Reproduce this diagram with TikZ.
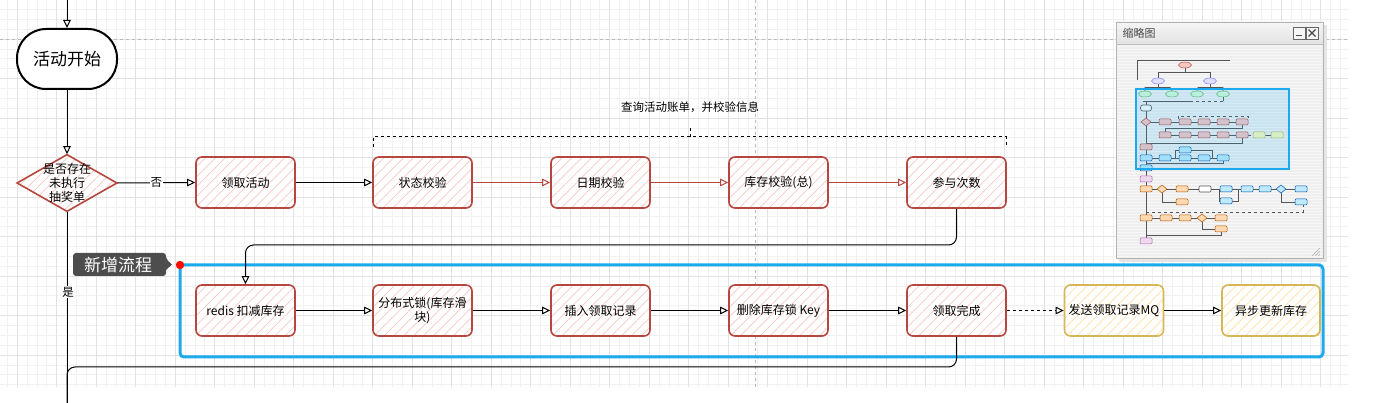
\documentclass[tikz,border=0pt]{standalone}
\usepackage{fontspec}
\setmainfont{Noto Sans CJK SC}
\usetikzlibrary{arrows.meta,patterns.meta,shapes.geometric,calc}
\definecolor{redline}{HTML}{B5473E}
\definecolor{redhatch}{HTML}{F8C8C5}
\definecolor{yelline}{HTML}{D6B656}
\definecolor{yelhatch}{HTML}{FFE0A8}
\definecolor{bluefr}{HTML}{1BAAEE}
\definecolor{gridmin}{HTML}{F1F1F1}
\definecolor{gridmaj}{HTML}{E2E2E2}
\definecolor{calloutc}{HTML}{4D4D4D}
\definecolor{mmbg}{HTML}{EFEFEF}
\definecolor{mmline}{HTML}{555555}
\tikzset{
  rbox/.style={draw=redline, line width=1.6pt, rounded corners=6pt,
    preaction={fill=white},
    pattern={Lines[angle=45,distance=7pt,line width=0.7pt]}, pattern color=redhatch,
    minimum width=99pt, minimum height=51pt, inner sep=2pt,
    font=\fontsize{12}{14.5}\selectfont, align=center},
  ybox/.style={rbox, draw=yelline, pattern color=yelhatch},
  arr/.style={-{Triangle[open,length=8pt,width=7.5pt]}, line width=1pt},
  rarr/.style={arr, draw=redline},
  conn/.style={line width=1pt},
  mmln/.style={draw=mmline, line width=0.6pt},
  mmpink/.style={draw=redline, fill=redhatch, line width=0.5pt},
  mmblue/.style={draw=blue!50!cyan!70!black, fill=cyan!25, line width=0.5pt},
  mmorange/.style={draw=orange!70!black, fill=orange!30, line width=0.5pt},
  mmpurple/.style={draw=violet!60, fill=violet!15, line width=0.5pt},
  mmgreen/.style={draw=green!50!black!60, fill=green!15, line width=0.5pt},
  mmyg/.style={draw=olive!60, fill=yellow!25, line width=0.5pt},
  mmwhite/.style={draw=mmline, fill=white, line width=0.6pt},
  mmlav/.style={draw=blue!50, fill=blue!12, line width=0.5pt},
}
\newcommand\mmbox[3]{\draw[#3, rounded corners=1pt] (#1-6,#2-3) rectangle (#1+6,#2+3);}
\newcommand\mmell[3]{\draw[#3] (#1,#2) ellipse (6.5pt and 3pt);}
\newcommand\mmdia[3]{\draw[#3] (#1-5,#2) -- (#1,#2-4) -- (#1+5,#2) -- (#1,#2+4) -- cycle;}
\begin{document}
\begin{tikzpicture}[x=1pt,y=-1pt]
\useasboundingbox (0,0) rectangle (1385,403);
% grid
\foreach \k in {-1,...,134} {
  \pgfmathsetmacro\gx{17+\k*9.875}
  \draw[gridmin, line width=0.5pt] (\gx,0) -- (\gx,387);
}
\foreach \k in {0,...,39} {
  \pgfmathsetmacro\gy{-0.5+\k*9.875}
  \draw[gridmin, line width=0.5pt] (0,\gy) -- (1348,\gy);
}
\foreach \k in {0,...,33} {
  \pgfmathsetmacro\gx{17+\k*39.5}
  \draw[gridmaj, line width=0.6pt] (\gx,0) -- (\gx,387);
}
\foreach \k in {1,...,9} {
  \pgfmathsetmacro\gy{-0.5+\k*39.5}
  \draw[gridmaj, line width=0.6pt] (0,\gy) -- (1348,\gy);
}
% page breaks
\draw[gray!55, dashed, line width=0.7pt] (0,39) -- (1348,39);
\draw[gray!55, dashed, line width=0.7pt] (755,0) -- (755,387);

% blue frame
\draw[bluefr, line width=3pt, rounded corners=4pt] (180,265) rectangle (1323,357);
\fill[red!90!orange] (180,265) circle (4.2pt);

% callout
\fill[calloutc, rounded corners=3pt] (73,253) -- (166,253) -- (166,259) [sharp corners] -- (172,264.5) -- (166,270) [rounded corners=3pt] -- (166,276) -- (73,276) -- cycle;
\node[text=white, font=\fontsize{17}{19}\selectfont] (callt) at (118,264.5) {新增流程};

% start
\node[draw, line width=2pt, rounded corners=29pt, minimum width=100pt, minimum height=60pt, fill=white, font=\fontsize{17}{19}\selectfont] (term) at (67,59) {活动开始};
\coordinate (top) at (67,0);

% decision
\node[diamond, draw=redline, line width=1.6pt, minimum width=100pt, minimum height=57pt, inner sep=0pt, aspect=1.75,
  preaction={fill=white}, pattern={Lines[angle=45,distance=7pt,line width=0.7pt]}, pattern color=redhatch] (dia) at (67,183) {};
\node[font=\fontsize{12}{14}\selectfont, align=center] (diat) at (67,183) {是否存在\\未执行\\抽奖单};

% row 1
\node[rbox] (n1) at (245.5,182.5) {领取活动};
\node[rbox] (n2) at (422.5,182.5) {状态校验};
\node[rbox] (n3) at (600.5,182.5) {日期校验};
\node[rbox] (n4) at (778.5,182.5) {库存校验(总)};
\node[rbox] (n5) at (956.5,182.5) {参与次数};

% row 2
\node[rbox] (m1) at (245.5,310.5) {redis 扣减库存};
\node[rbox] (m2) at (422.5,310.5) {分布式锁(库存滑\\块)};
\node[rbox] (m3) at (600.5,310.5) {插入领取记录};
\node[rbox] (m4) at (778.5,310.5) {删除库存锁 Key};
\node[rbox] (m5) at (956.5,310.5) {领取完成};
\node[ybox] (m6) at (1114,310.5) {发送领取记录MQ};
\node[ybox, minimum width=98pt] (m7) at (1271,310.5) {异步更新库存};

% bracket
\draw[dashed, line width=1pt] (373,147) -- (373,137) -- (1006,137) -- (1006,147);
\draw[dashed, line width=1pt] (690,137) -- (690,128);
\node[font=\fontsize{11.5}{13}\selectfont] (brl) at (690,107) {查询活动账单，并校验信息};

% connectors
\draw[arr] (top) -- (term.north);
\draw[arr] (term.south) -- (dia.north);
\draw[arr] (dia.east) -- node[fill=white, inner sep=1pt, font=\fontsize{11.5}{13}\selectfont] (nolab) {否} (n1.west);
\draw[arr] (n1) -- (n2);
\draw[rarr] (n2) -- (n3);
\draw[rarr] (n3) -- (n4);
\draw[rarr] (n4) -- (n5);
\draw[arr, rounded corners=8pt] (n5.south) |- (245.5,245) -- (m1.north);
\draw[arr] (m1) -- (m2);
\draw[arr] (m2) -- (m3);
\draw[arr] (m3) -- (m4);
\draw[arr] (m4) -- (m5);
\draw[arr, dashed] (m5) -- (m6);
\draw[arr] (m6) -- (m7);
\coordinate (bot) at (67,403);
\draw[conn] (dia.south) -- (bot);
\node[fill=white, inner sep=1pt, font=\fontsize{11.5}{13}\selectfont] (yeslab) at (68,292) {是};
\draw[conn, rounded corners=8pt] (m5.south) |- (67,367) -- (bot);

% minimap window
\fill[black!10] (1119,25) rectangle (1327,262);
\fill[mmbg] (1116,22) rectangle (1323,258);
\foreach \k in {0,...,70} { \draw[white!50!mmbg, line width=0.3pt] (1117,46+\k*3) -- (1322,46+\k*3); }
\shade[top color=gray!8, bottom color=gray!22] (1116,22) rectangle (1323,44);
\draw[black!30, line width=0.6pt] (1116,22) rectangle (1323,258);
\draw[black!25, line width=0.5pt] (1116,44) -- (1323,44);
\node[anchor=west, text=gray!55!black, font=\fontsize{11}{12}\selectfont] (mmtitle) at (1119,33.5) {缩略图};
\draw[black!60, fill=gray!8, line width=0.6pt] (1293,27) rectangle (1305,39);
\draw[black!70, line width=1.2pt] (1296,35.5) -- (1302,35.5);
\draw[black!60, fill=gray!8, line width=0.6pt] (1306,27) rectangle (1318,39);
\draw[black!70, line width=1.2pt] (1308.5,29.5) -- (1315.5,36.5) (1308.5,36.5) -- (1315.5,29.5);
% minimap content
\draw[mmln] (1137,60) -- (1230,60) (1137,60) -- (1137,80);
\draw[mmln] (1185,62) -- (1185,72) (1158,72) -- (1210,72) (1158,72) -- (1158,78) (1210,72) -- (1210,78);
\draw[mmln] (1158,84) -- (1158,87) (1210,84) -- (1210,87) (1145,87) -- (1170,87) (1198,87) -- (1223,87);
\draw[mmln] (1145,87) -- (1145,91) (1170,87) -- (1172,91) (1198,87) -- (1197,91) (1223,87) -- (1223,91);
\draw[mmln] (1143,101) -- (1190,101);
\draw[mmln, dashed] (1190,101) -- (1223,101);
\draw[mmln] (1223,97) -- (1223,101) (1146,101) -- (1146,105);
\mmell{1185}{65}{mmpink}
\mmell{1158}{81}{mmlav}
\mmell{1210}{81}{mmlav}
\mmell{1145}{94}{mmgreen}
\mmell{1172}{94}{mmgreen}
\mmell{1197}{94}{mmgreen}
\mmell{1223}{94}{mmgreen}
\draw[mmln] (1146,111) -- (1146,244);
\draw[mmwhite, rounded corners=2.5pt] (1140.5,105) rectangle (1151.5,111);
\draw[mmln] (1146,122) -- (1242,122);
\draw[mmln, dashed] (1178,119) -- (1178,116) -- (1248,116) -- (1248,119);
\mmdia{1146}{122}{mmpink}
\foreach \x in {1165,1185,1204,1223,1242} { \mmbox{\x}{122}{mmpink} }
\draw[mmln] (1242,125) -- (1242,128) -- (1165,128) -- (1165,132);
\draw[mmln] (1165,135) -- (1242,135);
\draw[mmln, dashed] (1242,135) -- (1259,135);
\draw[mmln] (1259,135) -- (1277,135);
\foreach \x in {1165,1185,1204,1223,1242} { \mmbox{\x}{135}{mmpink} }
\mmbox{1259}{135}{mmyg}
\mmbox{1277}{135}{mmyg}
\draw[mmln] (1242,138) -- (1242,143) -- (1146,143);
\mmbox{1146}{147}{mmpink}
\draw[mmln] (1146,158) -- (1223,158) (1175,158) -- (1175,150) -- (1212,150) -- (1212,158);
\mmbox{1185}{150}{mmblue}
\foreach \x in {1146,1165,1185,1204,1223} { \mmbox{\x}{158}{mmblue} }
\draw[mmln] (1223,161) -- (1223,163) -- (1146,163);
\mmbox{1146}{168}{mmblue}
\mmbox{1146}{179}{mmpurple}
\draw[mmln] (1146,189) -- (1301,189);
\draw[mmln] (1162,189) -- (1162,202) -- (1182,202);
\draw[mmln] (1219,189) -- (1219,201) -- (1238,201) -- (1238,189);
\draw[mmln] (1281,189) -- (1281,202) -- (1301,202);
\mmbox{1146}{189}{mmorange}
\mmdia{1162}{189}{mmorange}
\mmbox{1182}{189}{mmorange}
\mmbox{1205}{189}{mmwhite}
\mmbox{1226}{189}{mmblue}
\mmbox{1247}{189}{mmblue}
\mmbox{1265}{189}{mmblue}
\mmdia{1281}{189}{mmblue}
\mmbox{1301}{189}{mmblue}
\mmbox{1182}{202}{mmorange}
\mmbox{1226}{201}{mmblue}
\mmbox{1301}{202}{mmblue}
\draw[mmln, dashed] (1146,212) -- (1303,212) -- (1303,205);
\draw[mmln] (1146,218) -- (1221,218);
\draw[mmln] (1202,218) -- (1202,229) -- (1221,229);
\mmbox{1146}{218}{mmorange}
\mmbox{1166}{218}{mmorange}
\mmbox{1185}{218}{mmorange}
\mmdia{1202}{218}{mmorange}
\mmbox{1221}{218}{mmorange}
\mmbox{1221}{229}{mmorange}
\draw[mmln] (1221,232) -- (1221,235) -- (1146,235);
\mmbox{1146}{241}{mmpurple}
% viewport
\draw[bluefr, fill=bluefr, fill opacity=0.17, line width=2.5pt] (1136,89) rectangle (1289,169);
% resize grip
\draw[gray!60, line width=0.6pt] (1312,256) -- (1320,248) (1315,256) -- (1320,251) (1318,256) -- (1320,254);
\end{tikzpicture}
\end{document}
